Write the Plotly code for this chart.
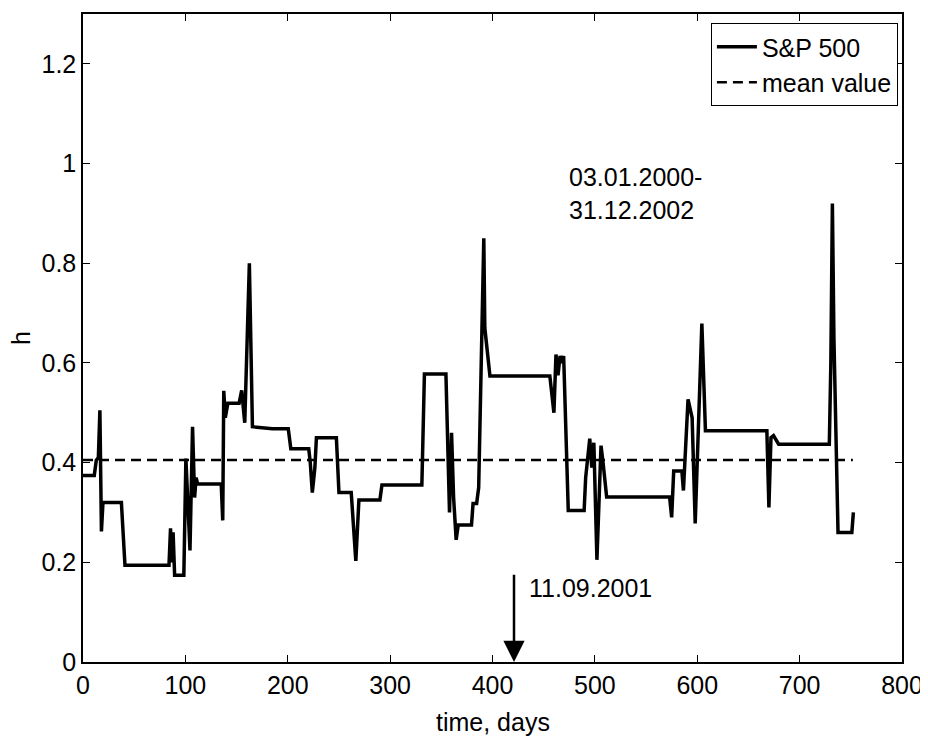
import plotly.graph_objects as go

days = [0, 11, 13, 15, 16.5, 18, 19.5, 37.5, 41, 84,
        85.5, 86.5, 88, 89.5, 98.5, 100.5, 104.5, 107, 109, 110.5,
        112, 135, 136.5, 137.5, 139, 141.5, 152.5, 155, 158, 162.5,
        165.5, 185, 200.5, 203, 220.5, 222, 224, 226.5, 228, 247.5,
        250, 262, 266.5, 269.5, 290, 292, 331, 333.5, 354.5, 358,
        360, 362, 364.5, 366.5, 379.5, 381, 384.5, 386.5, 391.5, 392.5,
        397.5, 456, 460, 462, 464, 466, 467.5, 469.5, 474, 489.5,
        491, 495, 497, 499, 502, 506, 508, 511.5, 573, 575,
        577, 585, 586.5, 591, 595, 598, 604.5, 608, 668, 670,
        672, 674.5, 679.5, 729, 730.5, 732, 733.5, 737.5, 751, 752.5]
h = [0.374, 0.374, 0.405, 0.41, 0.505, 0.262, 0.32, 0.32, 0.194, 0.194,
     0.268, 0.2, 0.26, 0.174, 0.174, 0.408, 0.224, 0.472, 0.33, 0.37,
     0.357, 0.357, 0.284, 0.544, 0.49, 0.519, 0.519, 0.545, 0.48, 0.80,
     0.472, 0.468, 0.468, 0.428, 0.428, 0.40, 0.34, 0.39, 0.45, 0.45,
     0.34, 0.34, 0.203, 0.325, 0.325, 0.355, 0.355, 0.578, 0.578, 0.30,
     0.46, 0.33, 0.245, 0.275, 0.275, 0.318, 0.318, 0.35, 0.85, 0.67,
     0.574, 0.574, 0.50, 0.617, 0.575, 0.614, 0.60, 0.614, 0.304, 0.304,
     0.37, 0.448, 0.39, 0.44, 0.205, 0.434, 0.40, 0.331, 0.331, 0.29,
     0.383, 0.383, 0.344, 0.527, 0.49, 0.278, 0.679, 0.464, 0.464, 0.31,
     0.45, 0.454, 0.437, 0.437, 0.60, 0.92, 0.65, 0.26, 0.26, 0.30]

mean_days = [0, 752]
mean_value = [0.405, 0.405]

event_day = 421
event_label = "11.09.2001"
period_label = "03.01.2000-<br>31.12.2002"
x_title = "time, days"
y_title = "h"

FONT = "Arial, 'Liberation Sans', Helvetica, sans-serif"
FS = 25

fig = go.Figure()
fig.add_trace(go.Scatter(x=days, y=h, mode="lines", name="S&P 500",
                         line=dict(color="black", width=3.5)))
fig.add_trace(go.Scatter(x=mean_days, y=mean_value, mode="lines", name="mean value",
                         line=dict(color="black", width=2.5, dash="10px,6px")))

fig.add_annotation(x=event_day, y=0, ax=event_day, ay=0.178, xref="x", yref="y",
                   axref="x", ayref="y", text="", showarrow=True, arrowhead=2,
                   arrowwidth=2.5, arrowsize=1.7, arrowcolor="black", standoff=0)
fig.add_annotation(x=434, y=0.148, xref="x", yref="y", text=event_label,
                   showarrow=False, xanchor="left", yanchor="middle",
                   font=dict(family=FONT, size=FS, color="black"))
fig.add_annotation(x=473, y=0.94, xref="x", yref="y", text=period_label,
                   showarrow=False, xanchor="left", yanchor="middle", align="left",
                   font=dict(family=FONT, size=FS, color="black"))

# axis titles as annotations for precise placement
fig.add_annotation(x=0.5, y=0, xref="paper", yref="paper", text=x_title,
                   showarrow=False, xanchor="center", yanchor="top", yshift=-44,
                   font=dict(family=FONT, size=FS, color="black"))
fig.add_annotation(x=0, y=0.5, xref="paper", yref="paper", text=y_title,
                   showarrow=False, xanchor="right", yanchor="middle", xshift=-46,
                   textangle=-90, font=dict(family=FONT, size=FS, color="black"))

axis_common = dict(showline=True, linecolor="black", linewidth=1.5, mirror="ticks",
                   ticks="inside", ticklen=7, tickwidth=1.2, tickcolor="black",
                   showgrid=False, zeroline=False, automargin=False,
                   ticklabeloverflow="allow",
                   tickfont=dict(family=FONT, size=FS, color="black"))

# the page body adds an 8px offset, so margins are shifted accordingly
fig.update_layout(
    width=920, height=729,
    margin=dict(l=75, r=26, t=6, b=75),
    paper_bgcolor="white", plot_bgcolor="white",
    font=dict(family=FONT, size=FS, color="black"),
    xaxis=dict(range=[0, 800], dtick=100, **axis_common),
    yaxis=dict(range=[0, 1.3], tickvals=[0, 0.2, 0.4, 0.6, 0.8, 1.0, 1.2],
               ticktext=["0", "0.2", "0.4", "0.6", "0.8", "1", "1.2"],
               **axis_common),
    legend=dict(x=0.995, y=0.986, xanchor="right", yanchor="top",
                bgcolor="white", bordercolor="black", borderwidth=1,
                tracegroupgap=0, itemwidth=40,
                font=dict(family=FONT, size=FS, color="black")),
    showlegend=True,
)

fig.write_html("out.html")
